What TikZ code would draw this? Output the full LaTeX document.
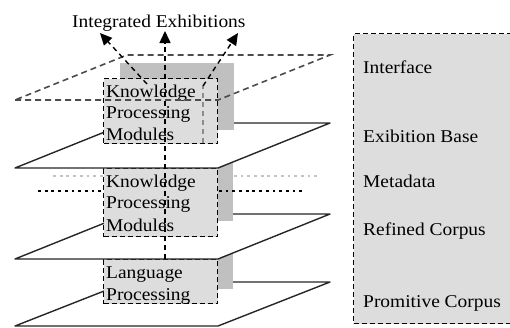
\documentclass[tikz,border=0pt]{standalone}
\usepackage{fontspec}
\setmainfont[FakeStretch=1.08]{Liberation Serif}
\usetikzlibrary{arrows.meta}
\definecolor{boxgray}{RGB}{221,221,221}
\definecolor{shadegray}{RGB}{192,192,192}
\definecolor{dotgray}{RGB}{195,195,195}
\begin{document}
\begin{tikzpicture}[x=1pt,y=-1pt,
  lbl/.style={anchor=base west, inner sep=0pt, font=\fontsize{18}{21}\selectfont},
  plane/.style={draw=black!85, line width=1.4pt, fill=white, line join=round},
  topplane/.style={draw=black!70, line width=1.6pt, dash pattern=on 6pt off 4pt},
  modbox/.style={draw=black, fill=boxgray, line width=1.3pt, dash pattern=on 5pt off 3pt, anchor=north west, inner sep=0pt, minimum width=114pt},
  shade/.style={fill=shadegray, draw=none, anchor=north west, inner sep=0pt, minimum width=114pt},
  panelbox/.style={draw=black, fill=boxgray, line width=1.3pt, dash pattern=on 5pt off 3pt, anchor=north west, inner sep=0pt, minimum width=170pt, minimum height=290pt},
  conn/.style={draw=black, line width=1.4pt, dash pattern=on 5pt off 4pt, -{Triangle[length=12pt,width=11pt]}},
  grayconn/.style={draw=black!45, line width=1.3pt, dash pattern=on 5pt off 4pt},
  blackdots/.style={draw=black, line width=2.8pt, dash pattern=on 2.8pt off 3.9pt},
  graydots/.style={draw=dotgray, line width=2.8pt, dash pattern=on 2.8pt off 3.9pt}
]
\useasboundingbox (0,0) rectangle (510,327);
\clip (0,0) rectangle (510,327);

% right panel
\node[panelbox] (panel) at (353,33) {};
\node[lbl] (interface) at (363,73) {Interface};
\node[lbl] (exbase) at (363,142) {Exibition Base};
\node[lbl] (metadata) at (363,187) {Metadata};
\node[lbl] (refined) at (363,235) {Refined Corpus};
\node[lbl] (primitive) at (363,307) {Promitive Corpus};

% plane 4
\draw[plane] (15,326) -- (218,326) -- (330,282) -- (127,282) -- cycle;
% box 3
\node[shade, minimum height=43pt] (s3) at (119,246) {};
\node[modbox, minimum height=44pt] (b3) at (103,259) {};
\node[lbl] (b3a) at (106,278) {Language};
\node[lbl] (b3b) at (106,300) {Processing};

% plane 3
\draw[plane] (15,259) -- (218,259) -- (330,214) -- (127,214) -- cycle;
% box 2
\node[shade, minimum height=67pt] (s2) at (119,154) {};
\draw[graydots] (53,176) -- (317,176);
\draw[blackdots] (38,191) -- (302,191);
\node[modbox, minimum height=68pt] (b2) at (103,168) {};
\node[lbl] (b2a) at (106,187) {Knowledge};
\node[lbl] (b2b) at (106,208) {Processing};
\node[lbl] (b2c) at (106,231) {Modules};

% plane 2
\draw[plane] (15,168) -- (218,168) -- (330,123) -- (127,123) -- cycle;
% box 1
\node[shade, minimum height=67pt] (s1) at (120,63) {};
\node[modbox, minimum height=65pt] (b1) at (103,78) {};
\node[lbl] (b1a) at (106,97) {Knowledge};
\node[lbl] (b1b) at (106,118) {Processing};
\node[lbl] (b1c) at (106,140) {Modules};

% top plane (dashed, open)
\draw[topplane] (15,100) -- (218,100) -- (330,55) -- (127,55) -- cycle;

% title and connectors
\node[lbl] (title) at (72,27) {Integrated Exhibitions};
\coordinate (ctop) at (165,31);
\coordinate (cbot) at (165,259);
\coordinate (ltip) at (100,33);
\coordinate (lstart) at (147,84);
\coordinate (rtip) at (238,33);
\coordinate (rmid) at (203,86);
\coordinate (rbot) at (203,143);
\draw[grayconn] (rbot) -- (rmid);
\draw[conn] (rmid) -- (rtip);
\draw[conn] (lstart) -- (ltip);
\draw[conn] (cbot) -- (ctop);
\end{tikzpicture}
\end{document}
